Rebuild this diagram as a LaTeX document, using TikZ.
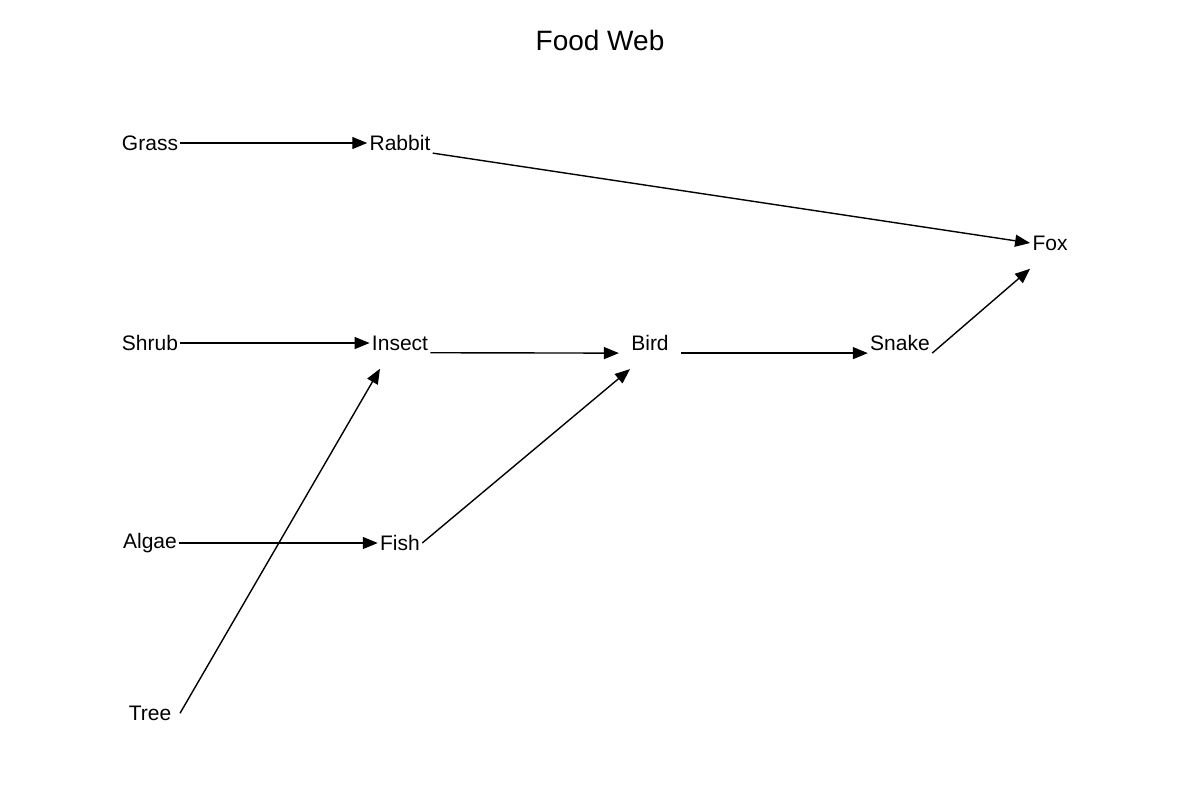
\documentclass[tikz,border=0pt]{standalone}
\usepackage{fontspec}
\setmainfont{Liberation Sans}
\usetikzlibrary{arrows.meta}
\tikzset{
  sp/.style={inner sep=1pt, font=\fontsize{10.5pt}{12pt}\selectfont},
  eat/.style={-{Triangle[length=7.5pt,width=6pt]}, line width=0.7pt}
}
\begin{document}
\begin{tikzpicture}[x=0.5pt,y=-0.5pt]
  \useasboundingbox (0,0) rectangle (1200,800);
  % title
  \node[font=\fontsize{14pt}{16pt}\selectfont] (title) at (600,40) {Food Web};
  % species
  \node[sp] (grass) at (150,143) {Grass};
  \node[sp] (rabbit) at (400,143) {Rabbit};
  \node[sp] (fox) at (1050,243) {Fox};
  \node[sp] (shrub) at (150,343) {Shrub};
  \node[sp] (insect) at (400,343) {Insect};
  \node[sp] (bird) at (650,343) {Bird};
  \node[sp] (snake) at (900,343) {Snake};
  \node[sp] (algae) at (150,543) {Algae};
  \node[sp] (fish) at (400,543) {Fish};
  \node[sp] (tree) at (150,713) {Tree};
  % who eats whom
  \draw[eat] (grass.east) -- (rabbit.west);
  \draw[eat] (rabbit.south east) -- (fox.west);
  \draw[eat] (shrub.east) -- (insect.west);
  \draw[eat] (insect.south east) -- ([xshift=-5pt]bird.south west);
  \draw[eat] ([xshift=5pt]bird.south east) -- (snake.south west);
  \draw[eat] (snake.south east) -- ([yshift=-8pt]fox.south west);
  \draw[eat] (algae.east) -- (fish.west);
  \draw[eat] ([shift={(15pt,-5pt)}]tree.north) -- ([shift={(-10pt,-8pt)}]insect.south);
  \draw[eat] (fish.east) -- ([shift={(-10pt,-8pt)}]bird.south);
\end{tikzpicture}
\end{document}
